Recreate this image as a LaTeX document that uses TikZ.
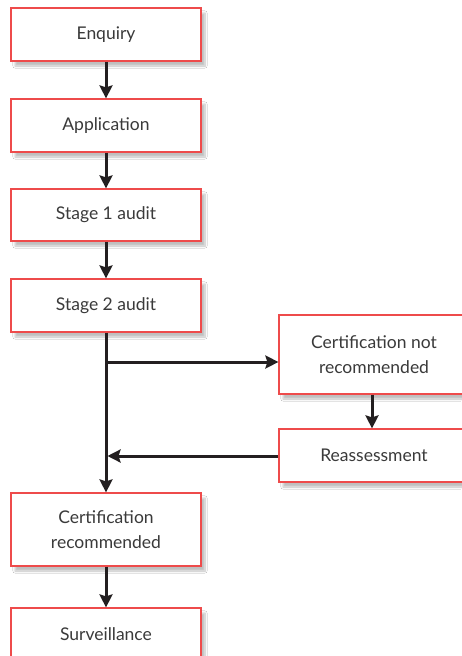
\documentclass[tikz,border=0pt]{standalone}
\usepackage{fontspec}
\setmainfont{Lato}
\usetikzlibrary{arrows.meta,shadows.blur}
\definecolor{boxred}{HTML}{EE4B4B}
\definecolor{txtgrey}{HTML}{3A3A3A}
\definecolor{arrowblk}{HTML}{231F20}
\tikzset{
  flowbox/.style={draw=boxred, line width=1.2pt, fill=white, rectangle,
    minimum width=190pt, inner sep=0pt, align=center,
    text=txtgrey, font=\fontsize{17.5}{24.5}\selectfont,
    blur shadow={shadow xshift=4pt, shadow yshift=-5pt, shadow blur steps=8, shadow opacity=25}},
  flowarrow/.style={draw=arrowblk, line width=3pt,
    -{Stealth[length=13pt,width=13pt,inset=2pt]}},
}
\begin{document}
\begin{tikzpicture}[x=1pt,y=-1pt]
\useasboundingbox[fill=white] (0,0) rectangle (461,656);
\node[flowbox, minimum height=53pt] (enq) at (106,34.5) {Enquiry};
\node[flowbox, minimum height=53pt] (app) at (106,125.5) {Application};
\node[flowbox, minimum height=52pt] (st1) at (106,215) {Stage 1 audit};
\node[flowbox, minimum height=53pt] (st2) at (106,305.5) {Stage 2 audit};
\node[flowbox, minimum height=79pt] (cnr) at (374,354.5) {Certification not\\recommended};
\node[flowbox, minimum height=53pt] (rea) at (374,455.5) {Reassessment};
\node[flowbox, minimum height=73pt] (crec) at (106,529.5) {Certification\\recommended};
\node[flowbox, minimum height=53pt] (surv) at (106,634.5) {Surveillance};
\coordinate (branch) at (106,362);
\coordinate (merge) at (106,456);
\draw[flowarrow] (enq.south) -- (app.north);
\draw[flowarrow] (app.south) -- (st1.north);
\draw[flowarrow] (st1.south) -- (st2.north);
\draw[flowarrow] (st2.south) -- (crec.north);
\draw[flowarrow] (branch) -- (branch -| cnr.west);
\draw[flowarrow] ([xshift=-2pt]cnr.south) -- ([xshift=-2pt]rea.north);
\draw[flowarrow] (rea.west |- merge) -- ([xshift=1.5pt]merge);
\draw[flowarrow] (crec.south) -- (surv.north);
\end{tikzpicture}
\end{document}
